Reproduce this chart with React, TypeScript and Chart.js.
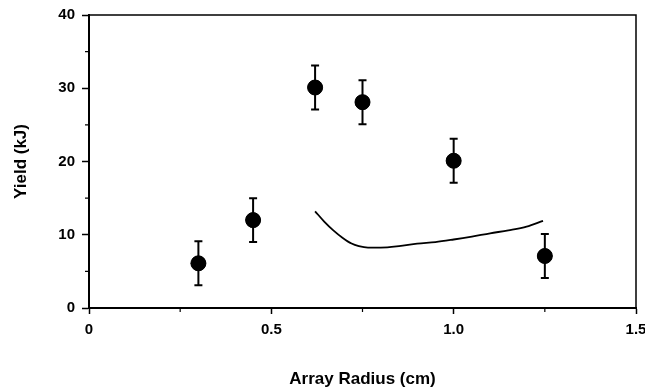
import React, { useEffect, useRef } from "react";
import { Chart, registerables } from "chart.js";

Chart.register(...registerables);

// Measured yields with error bars
const radius = [0.3, 0.45, 0.62, 0.75, 1.0, 1.25];
const yieldKJ = [6.1, 12.0, 30.1, 28.1, 20.1, 7.1];
const yieldErr = [3.0, 3.0, 3.0, 3.0, 3.0, 3.0];

// Model curve
const curveX = [0.62, 0.645, 0.67, 0.695, 0.72, 0.74, 0.765, 0.8, 0.85, 0.9, 0.95, 1.0, 1.05, 1.1, 1.15, 1.2, 1.245];
const curveY = [13.2, 11.8, 10.6, 9.6, 8.8, 8.45, 8.25, 8.25, 8.45, 8.8, 9.0, 9.35, 9.75, 10.2, 10.6, 11.1, 11.9];

// Axis ticks
const xMinorTicks = [0.25, 0.75, 1.25];
const yMinorTicks = [5, 15, 25, 35];

const FONT = "'Liberation Sans', Arial, Helvetica, sans-serif";

const decorPlugin = {
  id: "decor",
  afterDatasetsDraw(chart: any) {
    const ctx = chart.ctx;
    const xs = chart.scales.x;
    const ys = chart.scales.y;
    const meta = chart.getDatasetMeta(0);
    ctx.save();
    ctx.strokeStyle = "#000";
    ctx.lineWidth = 2;
    // error bars
    radius.forEach((r, i) => {
      const px = xs.getPixelForValue(r);
      const top = ys.getPixelForValue(yieldKJ[i] + yieldErr[i]);
      const bot = ys.getPixelForValue(yieldKJ[i] - yieldErr[i]);
      ctx.beginPath();
      ctx.moveTo(px, top);
      ctx.lineTo(px, bot);
      ctx.moveTo(px - 4, top);
      ctx.lineTo(px + 4, top);
      ctx.moveTo(px - 4, bot);
      ctx.lineTo(px + 4, bot);
      ctx.stroke();
    });
    // redraw points on top
    if (meta && meta.data) {
      meta.data.forEach((pt: any) => {
        ctx.beginPath();
        ctx.fillStyle = "#000";
        ctx.arc(pt.x, pt.y, 7.5, 0, Math.PI * 2);
        ctx.fill();
      });
    }
    ctx.restore();
  },
  afterDraw(chart: any) {
    const ctx = chart.ctx;
    const { left, right, top, bottom } = chart.chartArea;
    const xs = chart.scales.x;
    const ys = chart.scales.y;
    ctx.save();
    ctx.strokeStyle = "#000";
    ctx.lineWidth = 1.5;
    ctx.beginPath();
    ctx.moveTo(left, top);
    ctx.lineTo(right, top);
    ctx.lineTo(right, bottom);
    ctx.stroke();
    ctx.lineWidth = 1.2;
    ctx.beginPath();
    yMinorTicks.forEach((v) => {
      const py = ys.getPixelForValue(v);
      ctx.moveTo(left - 4, py);
      ctx.lineTo(left, py);
    });
    xMinorTicks.forEach((v) => {
      const px = xs.getPixelForValue(v);
      ctx.moveTo(px, bottom);
      ctx.lineTo(px, bottom + 4);
    });
    ctx.stroke();
    ctx.restore();
  },
};

export default function App() {
  const ref = useRef<HTMLCanvasElement | null>(null);
  useEffect(() => {
    if (!ref.current) return;
    const chart = new Chart(ref.current, {
      type: "scatter",
      data: {
        datasets: [
          {
            data: radius.map((r, i) => ({ x: r, y: yieldKJ[i] })),
            backgroundColor: "#000",
            borderColor: "#000",
            pointRadius: 7.5,
            showLine: false,
          },
          {
            data: curveX.map((x, i) => ({ x, y: curveY[i] })),
            borderColor: "#000",
            borderWidth: 1.8,
            pointRadius: 0,
            showLine: true,
            cubicInterpolationMode: "monotone",
            fill: false,
          } as any,
        ],
      },
      plugins: [decorPlugin],
      options: {
        responsive: false,
        animation: false,
        layout: { padding: { top: 15, right: 9, left: 0, bottom: 0 } },
        plugins: { legend: { display: false }, tooltip: { enabled: false } },
        scales: {
          x: {
            type: "linear",
            min: 0,
            max: 1.5,
            afterFit: (s: any) => {
              s.height = 80;
              s.paddingLeft = 0;
              s.paddingRight = 0;
            },
            ticks: {
              stepSize: 0.5,
              color: "#000",
              padding: 7,
              font: { family: FONT, size: 15, weight: "bold" },
              callback: (v: any) => (Number(v) === 0 ? "0" : Number(v).toFixed(1)),
            },
            grid: { drawOnChartArea: false, drawTicks: true, tickLength: 6, tickColor: "#000", tickWidth: 1.5 },
            border: { color: "#000", width: 2 },
            title: {
              display: true,
              text: "Array Radius (cm)",
              color: "#000",
              font: { family: FONT, size: 17, weight: "bold", lineHeight: 1 },
              padding: { top: 0, bottom: 0 },
            },
          },
          y: {
            type: "linear",
            min: 0,
            max: 40,
            afterFit: (s: any) => {
              s.width = 89;
              s.paddingTop = 0;
              s.paddingBottom = 0;
            },
            ticks: {
              stepSize: 10,
              color: "#000",
              padding: 7,
              font: { family: FONT, size: 15, weight: "bold" },
            },
            grid: { drawOnChartArea: false, drawTicks: true, tickLength: 7, tickColor: "#000", tickWidth: 1.5 },
            border: { color: "#000", width: 2 },
            title: {
              display: true,
              text: "Yield (kJ)",
              color: "#000",
              font: { family: FONT, size: 17, weight: "bold", lineHeight: 1 },
              padding: { top: 13, bottom: 0 },
            },
          },
        },
      },
    });
    return () => chart.destroy();
  }, []);
  return (
    <div style={{ position: "absolute", left: 0, top: 0, width: 645, height: 388, background: "#fff" }}>
      <canvas ref={ref} width={645} height={388} style={{ display: "block" }} />
    </div>
  );
}
